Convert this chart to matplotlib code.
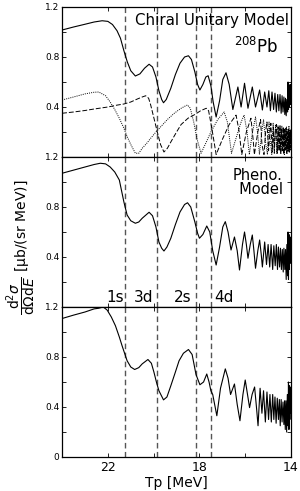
import matplotlib
matplotlib.use("Agg")
import matplotlib.pyplot as plt
from matplotlib.ticker import MultipleLocator, FixedLocator

plt.rcParams['font.family'] = ['DejaVu Sans']
plt.rcParams['mathtext.fontset'] = 'dejavusans'

# ---- data (Tp in MeV, cross section in ub/(sr MeV)) ----
# top panel: chiral unitary model, total
chiral_tp = [24.0, 23.5, 23.0, 22.6, 22.25, 22.0, 21.8, 21.6, 21.45, 21.3, 21.15, 21.0, 20.8,
             20.6, 20.4, 20.2, 20.05, 19.9, 19.77, 19.65, 19.57, 19.45, 19.25, 19.05, 18.85,
             18.65, 18.48, 18.35, 18.2, 18.08, 17.98, 17.85, 17.72, 17.62, 17.5, 17.4, 17.27,
             17.12, 16.98, 16.84, 16.7, 16.54, 16.43, 16.32, 16.18, 16.03, 15.88, 15.69, 15.55,
             15.37, 15.25, 15.15, 15.05, 14.97, 14.9, 14.83, 14.76, 14.7, 14.64, 14.58, 14.53,
             14.48, 14.43, 14.39, 14.35, 14.31, 14.27, 14.24, 14.21, 14.18, 14.15, 14.13, 14.11,
             14.09, 14.07, 14.05, 14.03, 14.01, 14.0]
chiral_xs = [1.016, 1.04, 1.062, 1.08, 1.09, 1.085, 1.06, 1.01, 0.95, 0.85, 0.76, 0.69, 0.648,
             0.665, 0.71, 0.742, 0.72, 0.64, 0.53, 0.46, 0.434, 0.46, 0.55, 0.66, 0.75,
             0.8, 0.81, 0.78, 0.68, 0.58, 0.536, 0.58, 0.64, 0.65, 0.57, 0.44, 0.32,
             0.45, 0.62, 0.674, 0.58, 0.38, 0.47, 0.56, 0.4, 0.59, 0.39, 0.56, 0.4,
             0.536, 0.376, 0.52, 0.4, 0.53, 0.37, 0.52, 0.38, 0.51, 0.36, 0.5, 0.37,
             0.5, 0.35, 0.49, 0.36, 0.48, 0.34, 0.47, 0.33, 0.46, 0.36, 0.6, 0.38,
             0.58, 0.4, 0.57, 0.42, 0.58, 0.5]

# top panel: dotted partial contribution
dot_tp = [24.0, 23.5, 23.0, 22.6, 22.4, 22.1, 21.9, 21.7, 21.5, 21.3, 21.15, 21.0, 20.8,
          20.65, 20.5, 20.3, 20.13, 19.9, 19.7, 19.4, 19.1, 18.8, 18.6, 18.52, 18.4, 18.25,
          18.1, 17.93, 17.75, 17.5, 17.2, 16.92, 16.78, 16.6, 16.4, 16.2, 16.05, 15.92, 15.82,
          15.7, 15.55, 15.45, 15.38, 15.28, 15.2, 15.1, 15.03, 14.96, 14.9, 14.84, 14.78,
          14.73, 14.67, 14.62, 14.57, 14.52, 14.48, 14.44, 14.4, 14.36, 14.32, 14.29, 14.26,
          14.23, 14.2, 14.17, 14.14, 14.12, 14.09, 14.07, 14.05, 14.03, 14.01, 14.0]
dot_xs = [0.456, 0.48, 0.505, 0.518, 0.52, 0.49, 0.44, 0.38, 0.31, 0.23, 0.16, 0.1, 0.03,
          0.03, 0.07, 0.11, 0.15, 0.2, 0.24, 0.3, 0.35, 0.39, 0.41, 0.416, 0.39, 0.28,
          0.14, 0.03, 0.1, 0.2, 0.3, 0.36, 0.28, 0.03, 0.15, 0.27, 0.336, 0.2, 0.02,
          0.18, 0.32, 0.18, 0.02, 0.2, 0.3, 0.1, 0.02, 0.28, 0.12, 0.02, 0.27,
          0.08, 0.26, 0.03, 0.25, 0.05, 0.24, 0.03, 0.25, 0.06, 0.23, 0.02, 0.22,
          0.05, 0.24, 0.03, 0.22, 0.06, 0.25, 0.04, 0.22, 0.05, 0.2, 0.1]

# top panel: dashed partial contribution
dash_tp = [24.0, 23.5, 23.0, 22.6, 22.0, 21.6, 21.3, 21.0, 20.7, 20.5, 20.35, 20.22, 20.13,
           20.0, 19.84, 19.7, 19.55, 19.4, 19.25, 19.0, 18.8, 18.5, 18.2, 17.95, 17.7, 17.6,
           17.45, 17.27, 17.0, 16.7, 16.4, 16.28, 16.15, 15.95, 15.75, 15.66, 15.6, 15.45,
           15.33, 15.27, 15.18, 15.1, 15.05, 14.98, 14.92, 14.88, 14.82, 14.77, 14.73, 14.68,
           14.64, 14.6, 14.56, 14.52, 14.48, 14.45, 14.41, 14.38, 14.34, 14.31, 14.28, 14.25,
           14.22, 14.19, 14.16, 14.13, 14.1, 14.08, 14.06, 14.04, 14.02, 14.0]
dash_xs = [0.35, 0.36, 0.372, 0.384, 0.4, 0.415, 0.424, 0.44, 0.465, 0.48, 0.49, 0.47, 0.416,
           0.32, 0.2, 0.1, 0.04, 0.07, 0.12, 0.2, 0.26, 0.31, 0.34, 0.37, 0.39, 0.37,
           0.22, 0.02, 0.14, 0.26, 0.335, 0.22, 0.02, 0.2, 0.31, 0.15, 0.02, 0.2,
           0.3, 0.1, 0.02, 0.22, 0.28, 0.05, 0.2, 0.27, 0.04, 0.24, 0.03, 0.22,
           0.26, 0.03, 0.24, 0.05, 0.25, 0.03, 0.22, 0.05, 0.24, 0.02, 0.22, 0.06,
           0.23, 0.03, 0.2, 0.05, 0.22, 0.04, 0.2, 0.06, 0.22, 0.12]

# middle panel: phenomenological model
pheno_tp = [24.0, 23.5, 23.0, 22.6, 22.33, 22.1, 21.9, 21.7, 21.5, 21.3, 21.16, 21.0, 20.8,
            20.65, 20.5, 20.2, 20.05, 19.9, 19.77, 19.65, 19.55, 19.42, 19.25, 19.05, 18.85,
            18.65, 18.52, 18.38, 18.2, 18.08, 18.0, 17.85, 17.68, 17.55, 17.42, 17.27, 17.12,
            16.98, 16.87, 16.75, 16.62, 16.47, 16.35, 16.25, 16.12, 16.03, 15.95, 15.88, 15.78,
            15.69, 15.62, 15.55, 15.45, 15.37, 15.3, 15.25, 15.15, 15.07, 15.0, 14.93, 14.87,
            14.8, 14.75, 14.69, 14.64, 14.59, 14.55, 14.5, 14.46, 14.42, 14.38, 14.34, 14.31,
            14.27, 14.24, 14.21, 14.18, 14.15, 14.13, 14.11, 14.09, 14.07, 14.05, 14.03, 14.01,
            14.0]
pheno_xs = [1.07, 1.095, 1.12, 1.14, 1.15, 1.145, 1.12, 1.08, 1.016, 0.84, 0.736, 0.69, 0.67,
            0.68, 0.71, 0.758, 0.73, 0.64, 0.52, 0.47, 0.448, 0.48, 0.55, 0.66, 0.76,
            0.82, 0.834, 0.8, 0.68, 0.59, 0.55, 0.58, 0.648, 0.6, 0.45, 0.336, 0.48,
            0.64, 0.683, 0.6, 0.456, 0.56, 0.45, 0.296, 0.5, 0.6, 0.5, 0.39, 0.5,
            0.576, 0.45, 0.31, 0.45, 0.536, 0.42, 0.32, 0.52, 0.34, 0.5, 0.32, 0.5,
            0.3, 0.49, 0.33, 0.5, 0.3, 0.48, 0.32, 0.47, 0.3, 0.46, 0.28, 0.47,
            0.3, 0.46, 0.22, 0.5, 0.25, 0.6, 0.22, 0.58, 0.3, 0.55, 0.35, 0.56,
            0.45]

# bottom panel
bot_tp = [24.0, 23.5, 23.0, 22.6, 22.4, 22.2, 22.03, 21.85, 21.67, 21.5, 21.38, 21.16, 21.0,
          20.83, 20.65, 20.5, 20.25, 20.1, 19.99, 19.88, 19.77, 19.57, 19.42, 19.25, 19.05,
          18.89, 18.7, 18.48, 18.32, 18.15, 17.98, 17.82, 17.68, 17.58, 17.5, 17.42, 17.24,
          17.08, 16.87, 16.75, 16.64, 16.47, 16.35, 16.23, 16.1, 16.0, 15.9, 15.81, 15.7,
          15.59, 15.5, 15.44, 15.35, 15.27, 15.2, 15.12, 15.05, 14.98, 14.92, 14.86, 14.8,
          14.75, 14.7, 14.65, 14.6, 14.55, 14.51, 14.47, 14.43, 14.39, 14.35, 14.31, 14.28,
          14.25, 14.22, 14.19, 14.16, 14.13, 14.11, 14.09, 14.07, 14.05, 14.03, 14.01, 14.0]
bot_xs = [1.108, 1.135, 1.16, 1.185, 1.19, 1.2, 1.175, 1.12, 1.05, 0.96, 0.89, 0.77, 0.72,
          0.7, 0.715, 0.745, 0.78, 0.75, 0.68, 0.6, 0.53, 0.457, 0.48, 0.57, 0.68,
          0.77, 0.83, 0.86, 0.82, 0.66, 0.578, 0.6, 0.664, 0.6, 0.53, 0.5, 0.33,
          0.55, 0.705, 0.63, 0.5, 0.584, 0.42, 0.29, 0.5, 0.616, 0.5, 0.395, 0.5,
          0.56, 0.38, 0.25, 0.55, 0.35, 0.53, 0.28, 0.52, 0.3, 0.5, 0.28, 0.5,
          0.3, 0.48, 0.27, 0.47, 0.3, 0.46, 0.25, 0.46, 0.28, 0.44, 0.26, 0.45,
          0.22, 0.45, 0.2, 0.5, 0.25, 0.6, 0.22, 0.57, 0.3, 0.56, 0.35, 0.5]

# threshold lines and their state labels
threshold_tp = [21.25, 19.85, 18.15, 17.5]
state_labels = ['1s', '3d', '2s', '4d']
state_label_tp = [21.67, 20.44, 18.73, 16.92]

fig = plt.figure(figsize=(3.0, 4.91), dpi=100)
left, width = 0.207, 0.763
panel_h = 150 / 491
bottoms = [1 - 457 / 491 + 2 * panel_h, 1 - 457 / 491 + panel_h, 1 - 457 / 491]
axes = [fig.add_axes([left, b, width, panel_h]) for b in bottoms]

for i, ax in enumerate(axes):
    ax.set_xlim(24, 14)
    ax.set_ylim(0, 1.2)
    for t in threshold_tp:
        ax.axvline(t, color='#555555', lw=1.0, ls=(0, (4, 2.5)), zorder=1)
    ax.xaxis.set_major_locator(FixedLocator([22, 18, 14]))
    ax.xaxis.set_minor_locator(FixedLocator([20, 16]))
    ax.yaxis.set_major_locator(MultipleLocator(0.4))
    ax.yaxis.set_minor_locator(MultipleLocator(0.2))
    ax.tick_params(which='both', direction='in', top=True, right=True,
                   length=3, width=0.6, labelsize=6.5, pad=2)
    ax.tick_params(axis='x', labelsize=9, pad=3)
    for s in ax.spines.values():
        s.set_linewidth(0.9)
    if i < 2:
        ax.set_xticklabels([])
        ax.set_yticks([0.4, 0.8, 1.2])
    else:
        ax.set_yticks([0, 0.4, 0.8, 1.2])
    ax.set_yticklabels([f'{v:g}' for v in ax.get_yticks()])

ax_top, ax_mid, ax_bot = axes
ax_top.plot(chiral_tp, chiral_xs, color='black', lw=0.8, zorder=3)
ax_top.plot(dot_tp, dot_xs, color='black', lw=0.7, ls=(0, (1, 1.2)), zorder=2)
ax_top.plot(dash_tp, dash_xs, color='black', lw=0.7, ls=(0, (5, 2)), zorder=2)
ax_top.text(0.99, 0.96, 'Chiral Unitary Model', transform=ax_top.transAxes,
            ha='right', va='top', fontsize=10.8)
ax_top.text(0.945, 0.80, r'$^{208}$Pb', transform=ax_top.transAxes,
            ha='right', va='top', fontsize=12)

ax_mid.plot(pheno_tp, pheno_xs, color='black', lw=0.8, zorder=3)
ax_mid.text(0.965, 0.93, 'Pheno.\n  Model', transform=ax_mid.transAxes,
            ha='right', va='top', fontsize=10.5, linespacing=1.0)
for lab, t in zip(state_labels, state_label_tp):
    ax_mid.text(t, 0.02, lab, ha='center', va='bottom', fontsize=11)

ax_bot.plot(bot_tp, bot_xs, color='black', lw=0.8, zorder=3)
ax_bot.set_xlabel('Tp [MeV]', fontsize=10, labelpad=1)

ylab = (r'$\dfrac{\mathrm{d}^2\sigma}{\mathrm{d}\Omega\mathrm{d}E}$'
        r' [$\mathrm{\mu}$b/(sr MeV)]')
fig.text(0.07, 0.497, ylab, rotation=90, ha='center', va='center', fontsize=10)

fig.savefig('out.png', dpi=100)
